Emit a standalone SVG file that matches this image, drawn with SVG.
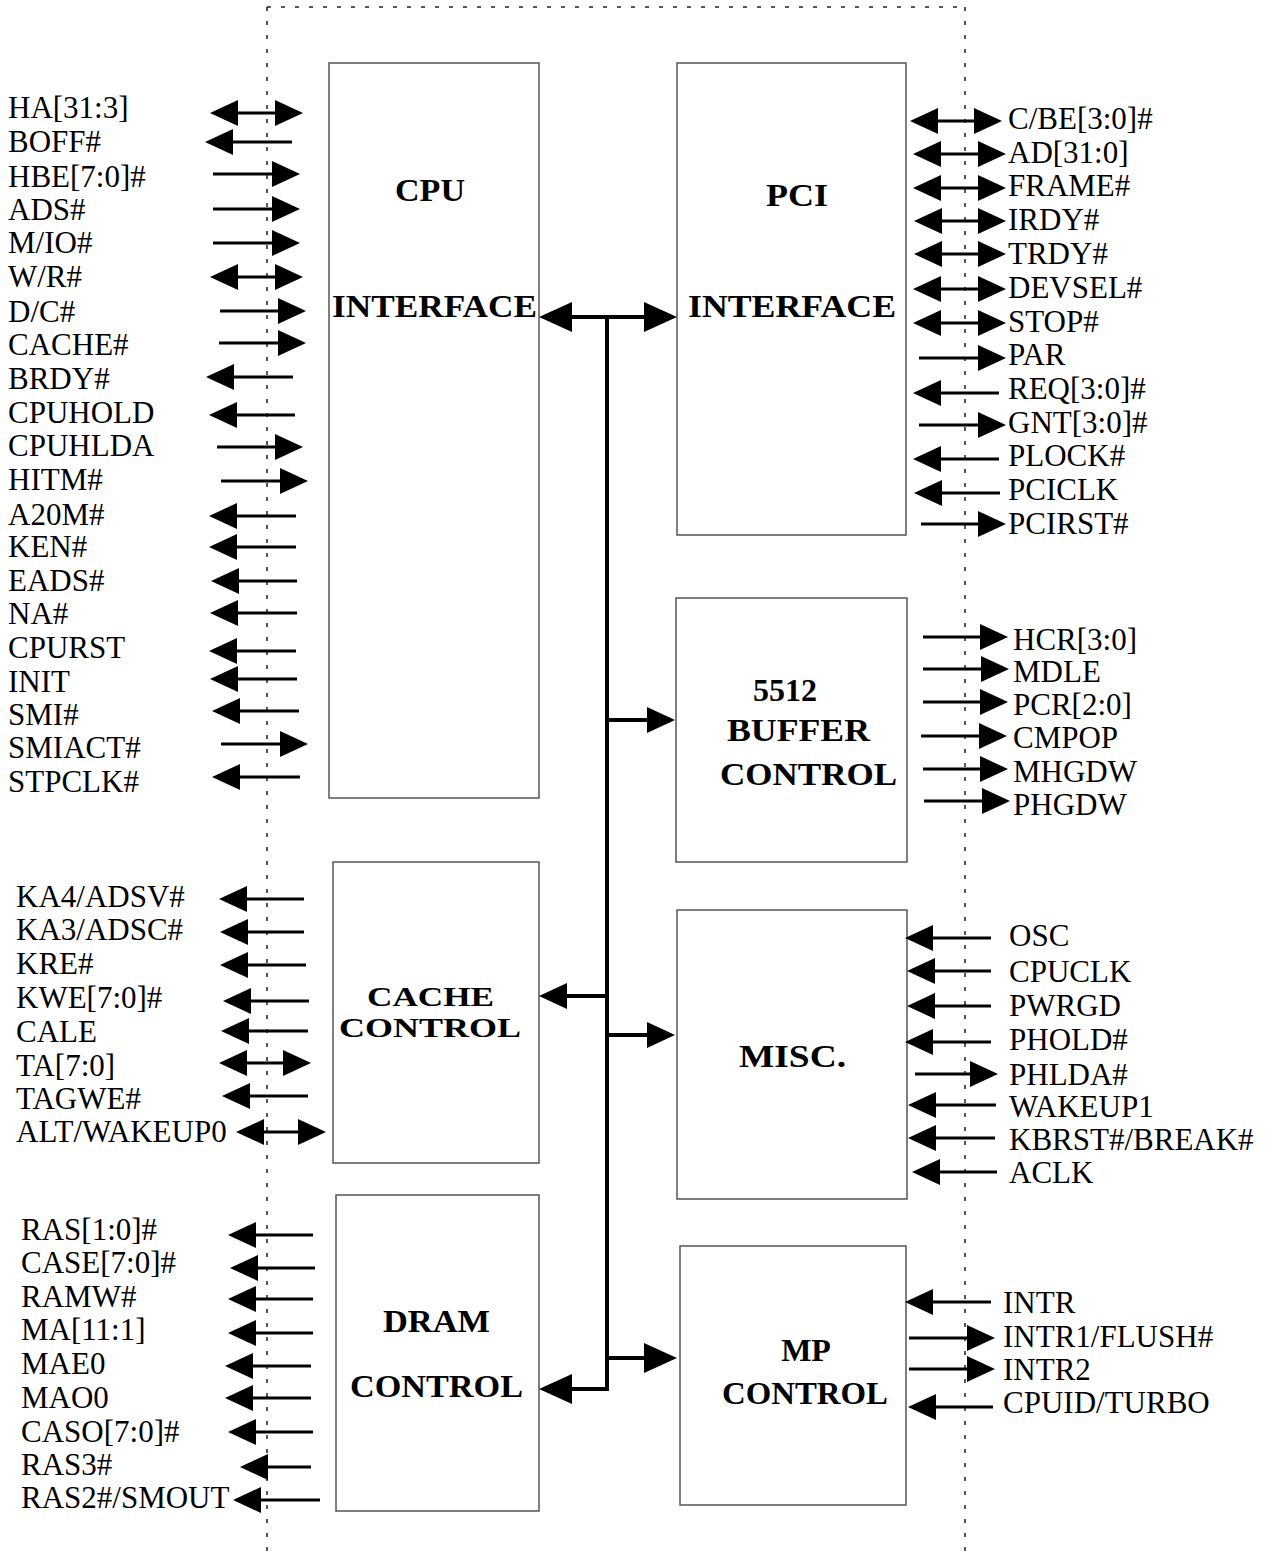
<svg xmlns="http://www.w3.org/2000/svg" width="1272" height="1555" viewBox="0 0 1272 1555">
<style>
.lbl{font-family:"Liberation Serif","Times New Roman",serif;font-size:31px;fill:#000}
.ttl{font-family:"Liberation Serif","Times New Roman",serif;font-weight:bold;font-size:32px;fill:#000}
.box{fill:#fff;stroke:#555;stroke-width:1.5}
.sig{stroke:#000;stroke-width:3;fill:none}
.bus{stroke:#000;stroke-width:4;fill:none;stroke-linejoin:miter}
.dot{stroke:#222;stroke-width:1.5;stroke-dasharray:4 10;fill:none}
</style>
<defs>
<marker id="ah" markerUnits="userSpaceOnUse" markerWidth="28" markerHeight="26" refX="24" refY="13" orient="auto-start-reverse" viewBox="0 0 28 26"><path d="M0,0 L28,13 L0,26 z" fill="#000"/></marker>
<marker id="bh" markerUnits="userSpaceOnUse" markerWidth="33" markerHeight="30" refX="29" refY="15" orient="auto-start-reverse" viewBox="0 0 33 30"><path d="M0,0 L33,15 L0,30 z" fill="#000"/></marker>
</defs>
<rect width="1272" height="1555" fill="#fff"/>
<g id="boundary">
<line class="dot" x1="267" y1="7" x2="267" y2="1555"/>
<line class="dot" x1="267" y1="7" x2="965" y2="7"/>
<line class="dot" x1="965" y1="7" x2="965" y2="1555"/>
</g>
<g id="cpu-interface">
<rect class="box" x="329" y="63" width="210" height="735"/>
<text class="ttl" x="395" y="201" textLength="70" lengthAdjust="spacingAndGlyphs">CPU</text>
<text class="ttl" x="332" y="317" textLength="205" lengthAdjust="spacingAndGlyphs">INTERFACE</text>
</g>
<g id="pci-interface">
<rect class="box" x="677" y="63" width="229" height="472"/>
<text class="ttl" x="766" y="206" textLength="62" lengthAdjust="spacingAndGlyphs">PCI</text>
<text class="ttl" x="688" y="317" textLength="208" lengthAdjust="spacingAndGlyphs">INTERFACE</text>
</g>
<g id="buffer-control">
<rect class="box" x="676" y="598" width="231" height="264"/>
<text class="ttl" x="753" y="701">5512</text>
<text class="ttl" x="727" y="741" textLength="143" lengthAdjust="spacingAndGlyphs">BUFFER</text>
<text class="ttl" x="720" y="785" textLength="177" lengthAdjust="spacingAndGlyphs">CONTROL</text>
</g>
<g id="cache-control">
<rect class="box" x="333" y="862" width="206" height="301"/>
<text class="ttl" x="367" y="1006" textLength="127" lengthAdjust="spacingAndGlyphs" style="font-size:27px">CACHE</text>
<text class="ttl" x="339" y="1037" textLength="182" lengthAdjust="spacingAndGlyphs" style="font-size:27px">CONTROL</text>
</g>
<g id="misc">
<rect class="box" x="677" y="910" width="230" height="289"/>
<text class="ttl" x="739" y="1067" textLength="107" lengthAdjust="spacingAndGlyphs">MISC.</text>
</g>
<g id="dram-control">
<rect class="box" x="336" y="1195" width="203" height="316"/>
<text class="ttl" x="383" y="1332" textLength="107" lengthAdjust="spacingAndGlyphs">DRAM</text>
<text class="ttl" x="350" y="1397" textLength="173" lengthAdjust="spacingAndGlyphs">CONTROL</text>
</g>
<g id="mp-control">
<rect class="box" x="680" y="1246" width="226" height="259"/>
<text class="ttl" x="806" y="1361" text-anchor="middle">MP</text>
<text class="ttl" x="722" y="1404" textLength="166" lengthAdjust="spacingAndGlyphs">CONTROL</text>
</g>
<g id="internal-bus">
<path class="bus" d="M607,317 V1389 H543" marker-end="url(#bh)"/>
<line class="bus" x1="543" y1="317" x2="673" y2="317" marker-start="url(#bh)" marker-end="url(#bh)"/>
<line class="bus" x1="607" y1="720" x2="671" y2="720" marker-end="url(#ah)"/>
<line class="bus" x1="607" y1="996" x2="543" y2="996" marker-end="url(#ah)"/>
<line class="bus" x1="607" y1="1035" x2="671" y2="1035" marker-end="url(#ah)"/>
<line class="bus" x1="607" y1="1358" x2="673" y2="1358" marker-end="url(#bh)"/>
</g>
<g id="cpu-signals">
<text class="lbl" x="8" y="118">HA[31:3]</text>
<text class="lbl" x="8" y="152">BOFF#</text>
<text class="lbl" x="8" y="187">HBE[7:0]#</text>
<text class="lbl" x="8" y="220">ADS#</text>
<text class="lbl" x="8" y="253">M/IO#</text>
<text class="lbl" x="8" y="287">W/R#</text>
<text class="lbl" x="8" y="322">D/C#</text>
<text class="lbl" x="8" y="355">CACHE#</text>
<text class="lbl" x="8" y="389">BRDY#</text>
<text class="lbl" x="8" y="423">CPUHOLD</text>
<text class="lbl" x="8" y="456">CPUHLDA</text>
<text class="lbl" x="8" y="490">HITM#</text>
<text class="lbl" x="8" y="525">A20M#</text>
<text class="lbl" x="8" y="557">KEN#</text>
<text class="lbl" x="8" y="591">EADS#</text>
<text class="lbl" x="8" y="624">NA#</text>
<text class="lbl" x="8" y="658">CPURST</text>
<text class="lbl" x="8" y="692">INIT</text>
<text class="lbl" x="8" y="725">SMI#</text>
<text class="lbl" x="8" y="758">SMIACT#</text>
<text class="lbl" x="8" y="792">STPCLK#</text>
</g>
<g id="cpu-signal-arrows">
<line class="sig" x1="214" y1="113" x2="299" y2="113" marker-start="url(#ah)" marker-end="url(#ah)"/>
<line class="sig" x1="292" y1="142" x2="209" y2="142" marker-end="url(#ah)"/>
<line class="sig" x1="213" y1="174" x2="296" y2="174" marker-end="url(#ah)"/>
<line class="sig" x1="213" y1="209" x2="296" y2="209" marker-end="url(#ah)"/>
<line class="sig" x1="213" y1="243" x2="296" y2="243" marker-end="url(#ah)"/>
<line class="sig" x1="214" y1="277" x2="299" y2="277" marker-start="url(#ah)" marker-end="url(#ah)"/>
<line class="sig" x1="220" y1="311" x2="302" y2="311" marker-end="url(#ah)"/>
<line class="sig" x1="219" y1="343" x2="302" y2="343" marker-end="url(#ah)"/>
<line class="sig" x1="293" y1="377" x2="210" y2="377" marker-end="url(#ah)"/>
<line class="sig" x1="295" y1="415" x2="213" y2="415" marker-end="url(#ah)"/>
<line class="sig" x1="217" y1="447" x2="299" y2="447" marker-end="url(#ah)"/>
<line class="sig" x1="221" y1="481" x2="304" y2="481" marker-end="url(#ah)"/>
<line class="sig" x1="296" y1="516" x2="213" y2="516" marker-end="url(#ah)"/>
<line class="sig" x1="296" y1="547" x2="213" y2="547" marker-end="url(#ah)"/>
<line class="sig" x1="297" y1="581" x2="215" y2="581" marker-end="url(#ah)"/>
<line class="sig" x1="297" y1="613" x2="214" y2="613" marker-end="url(#ah)"/>
<line class="sig" x1="296" y1="651" x2="213" y2="651" marker-end="url(#ah)"/>
<line class="sig" x1="297" y1="679" x2="214" y2="679" marker-end="url(#ah)"/>
<line class="sig" x1="299" y1="711" x2="216" y2="711" marker-end="url(#ah)"/>
<line class="sig" x1="221" y1="744" x2="304" y2="744" marker-end="url(#ah)"/>
<line class="sig" x1="300" y1="777" x2="216" y2="777" marker-end="url(#ah)"/>
</g>
<g id="cache-signals">
<text class="lbl" x="16" y="907">KA4/ADSV#</text>
<text class="lbl" x="16" y="940">KA3/ADSC#</text>
<text class="lbl" x="16" y="974">KRE#</text>
<text class="lbl" x="16" y="1008">KWE[7:0]#</text>
<text class="lbl" x="16" y="1042">CALE</text>
<text class="lbl" x="16" y="1076">TA[7:0]</text>
<text class="lbl" x="16" y="1109">TAGWE#</text>
<text class="lbl" x="16" y="1142">ALT/WAKEUP0</text>
<line class="sig" x1="304" y1="899" x2="223" y2="899" marker-end="url(#ah)"/>
<line class="sig" x1="304" y1="932" x2="224" y2="932" marker-end="url(#ah)"/>
<line class="sig" x1="306" y1="965" x2="224" y2="965" marker-end="url(#ah)"/>
<line class="sig" x1="309" y1="1001" x2="227" y2="1001" marker-end="url(#ah)"/>
<line class="sig" x1="308" y1="1031" x2="225" y2="1031" marker-end="url(#ah)"/>
<line class="sig" x1="223" y1="1063" x2="307" y2="1063" marker-start="url(#ah)" marker-end="url(#ah)"/>
<line class="sig" x1="308" y1="1096" x2="226" y2="1096" marker-end="url(#ah)"/>
<line class="sig" x1="240" y1="1132" x2="322" y2="1132" marker-start="url(#ah)" marker-end="url(#ah)"/>
</g>
<g id="dram-signals">
<text class="lbl" x="21" y="1240">RAS[1:0]#</text>
<text class="lbl" x="21" y="1273">CASE[7:0]#</text>
<text class="lbl" x="21" y="1307">RAMW#</text>
<text class="lbl" x="21" y="1340">MA[11:1]</text>
<text class="lbl" x="21" y="1374">MAE0</text>
<text class="lbl" x="21" y="1408">MAO0</text>
<text class="lbl" x="21" y="1442">CASO[7:0]#</text>
<text class="lbl" x="21" y="1475">RAS3#</text>
<text class="lbl" x="21" y="1508">RAS2#/SMOUT</text>
<line class="sig" x1="313" y1="1235" x2="232" y2="1235" marker-end="url(#ah)"/>
<line class="sig" x1="315" y1="1268" x2="234" y2="1268" marker-end="url(#ah)"/>
<line class="sig" x1="313" y1="1299" x2="232" y2="1299" marker-end="url(#ah)"/>
<line class="sig" x1="313" y1="1333" x2="232" y2="1333" marker-end="url(#ah)"/>
<line class="sig" x1="311" y1="1366" x2="229" y2="1366" marker-end="url(#ah)"/>
<line class="sig" x1="311" y1="1398" x2="229" y2="1398" marker-end="url(#ah)"/>
<line class="sig" x1="313" y1="1432" x2="232" y2="1432" marker-end="url(#ah)"/>
<line class="sig" x1="311" y1="1467" x2="244" y2="1467" marker-end="url(#ah)"/>
<line class="sig" x1="320" y1="1500" x2="237" y2="1500" marker-end="url(#ah)"/>
</g>
<g id="pci-signals">
<text class="lbl" x="1008" y="129">C/BE[3:0]#</text>
<text class="lbl" x="1008" y="163">AD[31:0]</text>
<text class="lbl" x="1008" y="196">FRAME#</text>
<text class="lbl" x="1008" y="230">IRDY#</text>
<text class="lbl" x="1008" y="264">TRDY#</text>
<text class="lbl" x="1008" y="298">DEVSEL#</text>
<text class="lbl" x="1008" y="332">STOP#</text>
<text class="lbl" x="1008" y="365">PAR</text>
<text class="lbl" x="1008" y="399">REQ[3:0]#</text>
<text class="lbl" x="1008" y="433">GNT[3:0]#</text>
<text class="lbl" x="1008" y="466">PLOCK#</text>
<text class="lbl" x="1008" y="500">PCICLK</text>
<text class="lbl" x="1008" y="534">PCIRST#</text>
<line class="sig" x1="914" y1="121" x2="998" y2="121" marker-start="url(#ah)" marker-end="url(#ah)"/>
<line class="sig" x1="917" y1="154" x2="1002" y2="154" marker-start="url(#ah)" marker-end="url(#ah)"/>
<line class="sig" x1="917" y1="188" x2="1002" y2="188" marker-start="url(#ah)" marker-end="url(#ah)"/>
<line class="sig" x1="918" y1="221" x2="1002" y2="221" marker-start="url(#ah)" marker-end="url(#ah)"/>
<line class="sig" x1="918" y1="254" x2="1002" y2="254" marker-start="url(#ah)" marker-end="url(#ah)"/>
<line class="sig" x1="917" y1="289" x2="1002" y2="289" marker-start="url(#ah)" marker-end="url(#ah)"/>
<line class="sig" x1="917" y1="323" x2="1002" y2="323" marker-start="url(#ah)" marker-end="url(#ah)"/>
<line class="sig" x1="919" y1="358" x2="1002" y2="358" marker-end="url(#ah)"/>
<line class="sig" x1="999" y1="393" x2="917" y2="393" marker-end="url(#ah)"/>
<line class="sig" x1="919" y1="425" x2="1002" y2="425" marker-end="url(#ah)"/>
<line class="sig" x1="999" y1="459" x2="917" y2="459" marker-end="url(#ah)"/>
<line class="sig" x1="1000" y1="493" x2="918" y2="493" marker-end="url(#ah)"/>
<line class="sig" x1="921" y1="524" x2="1002" y2="524" marker-end="url(#ah)"/>
</g>
<g id="buffer-signals">
<text class="lbl" x="1013" y="650">HCR[3:0]</text>
<text class="lbl" x="1013" y="682">MDLE</text>
<text class="lbl" x="1013" y="715">PCR[2:0]</text>
<text class="lbl" x="1013" y="748">CMPOP</text>
<text class="lbl" x="1013" y="782">MHGDW</text>
<text class="lbl" x="1013" y="815">PHGDW</text>
<line class="sig" x1="923" y1="637" x2="1004" y2="637" marker-end="url(#ah)"/>
<line class="sig" x1="923" y1="669" x2="1005" y2="669" marker-end="url(#ah)"/>
<line class="sig" x1="923" y1="702" x2="1004" y2="702" marker-end="url(#ah)"/>
<line class="sig" x1="921" y1="736" x2="1003" y2="736" marker-end="url(#ah)"/>
<line class="sig" x1="923" y1="769" x2="1004" y2="769" marker-end="url(#ah)"/>
<line class="sig" x1="924" y1="801" x2="1006" y2="801" marker-end="url(#ah)"/>
</g>
<g id="misc-signals">
<text class="lbl" x="1009" y="946">OSC</text>
<text class="lbl" x="1009" y="982">CPUCLK</text>
<text class="lbl" x="1009" y="1016">PWRGD</text>
<text class="lbl" x="1009" y="1050">PHOLD#</text>
<text class="lbl" x="1009" y="1085">PHLDA#</text>
<text class="lbl" x="1009" y="1117">WAKEUP1</text>
<text class="lbl" x="1009" y="1150">KBRST#/BREAK#</text>
<text class="lbl" x="1009" y="1183">ACLK</text>
<line class="sig" x1="991" y1="938" x2="909" y2="938" marker-end="url(#ah)"/>
<line class="sig" x1="991" y1="971" x2="911" y2="971" marker-end="url(#ah)"/>
<line class="sig" x1="991" y1="1006" x2="911" y2="1006" marker-end="url(#ah)"/>
<line class="sig" x1="991" y1="1042" x2="909" y2="1042" marker-end="url(#ah)"/>
<line class="sig" x1="915" y1="1074" x2="994" y2="1074" marker-end="url(#ah)"/>
<line class="sig" x1="996" y1="1105" x2="912" y2="1105" marker-end="url(#ah)"/>
<line class="sig" x1="995" y1="1138" x2="912" y2="1138" marker-end="url(#ah)"/>
<line class="sig" x1="997" y1="1172" x2="916" y2="1172" marker-end="url(#ah)"/>
</g>
<g id="mp-signals">
<text class="lbl" x="1003" y="1313">INTR</text>
<text class="lbl" x="1003" y="1347">INTR1/FLUSH#</text>
<text class="lbl" x="1003" y="1380">INTR2</text>
<text class="lbl" x="1003" y="1413">CPUID/TURBO</text>
<line class="sig" x1="991" y1="1302" x2="909" y2="1302" marker-end="url(#ah)"/>
<line class="sig" x1="909" y1="1338" x2="991" y2="1338" marker-end="url(#ah)"/>
<line class="sig" x1="909" y1="1369" x2="991" y2="1369" marker-end="url(#ah)"/>
<line class="sig" x1="993" y1="1407" x2="912" y2="1407" marker-end="url(#ah)"/>
</g>
</svg>
